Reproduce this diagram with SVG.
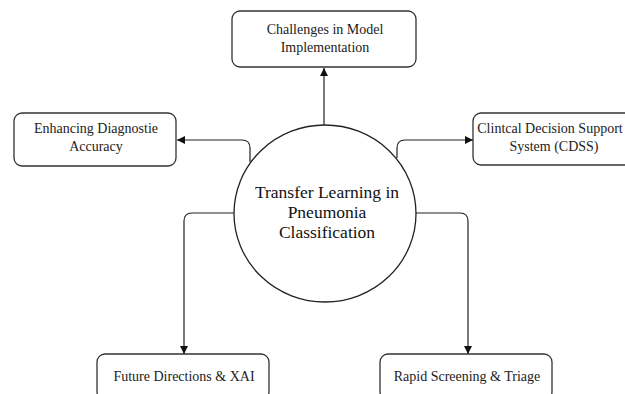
<svg xmlns="http://www.w3.org/2000/svg" width="625" height="394" viewBox="0 0 625 394">
<defs>
<style>
.box{fill:#fff;stroke:#333;stroke-width:1.3}
.t{font-family:"Liberation Serif","Times New Roman",serif;font-size:14px;fill:#222;text-anchor:middle}
.c{font-family:"Liberation Serif","Times New Roman",serif;font-size:17.5px;fill:#111;text-anchor:middle}
.ln{fill:none;stroke:#222;stroke-width:1.2}
</style>
<marker id="ah" viewBox="0 0 10 10" refX="10" refY="5" markerWidth="8" markerHeight="8" markerUnits="userSpaceOnUse" orient="auto">
<path d="M0,0 L10,5 L0,10 z" fill="#111"/>
</marker>
</defs>
<rect width="625" height="394" fill="#fff"/>
<g id="connectors">
<path class="ln" d="M324,125 V68" marker-end="url(#ah)"/>
<path class="ln" d="M250,162 V148 Q250,140 242,140 H177" marker-end="url(#ah)"/>
<path class="ln" d="M397,158 V148 Q397,140 405,140 H473" marker-end="url(#ah)"/>
<path class="ln" d="M234,213 H192 Q184,213 184,221 V354" marker-end="url(#ah)"/>
<path class="ln" d="M416,213 H460 Q468,213 468,221 V354" marker-end="url(#ah)"/>
</g>
<g id="center">
<ellipse cx="325" cy="213.5" rx="91" ry="88.5" fill="#fff" stroke="#222" stroke-width="1.3"/>
<text class="c" x="327" y="198">Transfer Learning in</text>
<text class="c" x="327" y="218">Pneumonia</text>
<text class="c" x="327" y="238">Classification</text>
</g>
<g id="challenges">
<rect class="box" x="232" y="11" width="184" height="56" rx="8"/>
<text class="t" x="325" y="34">Challenges in Model</text>
<text class="t" x="325" y="52">Implementation</text>
</g>
<g id="accuracy">
<rect class="box" x="14" y="113" width="162" height="53" rx="8"/>
<text class="t" x="96" y="133">Enhancing Diagnostie</text>
<text class="t" x="96" y="151">Accuracy</text>
</g>
<g id="cdss">
<rect class="box" x="473" y="113" width="164" height="52" rx="8"/>
<text class="t" x="550" y="133">Clintcal Decision Support</text>
<text class="t" x="554" y="151">System (CDSS)</text>
</g>
<g id="future">
<rect class="box" x="97" y="354" width="172" height="46" rx="8"/>
<text class="t" x="184" y="381">Future Directions &amp; XAI</text>
</g>
<g id="rapid">
<rect class="box" x="380" y="354" width="172" height="46" rx="8"/>
<text class="t" x="467" y="381">Rapid Screening &amp; Triage</text>
</g>
</svg>
